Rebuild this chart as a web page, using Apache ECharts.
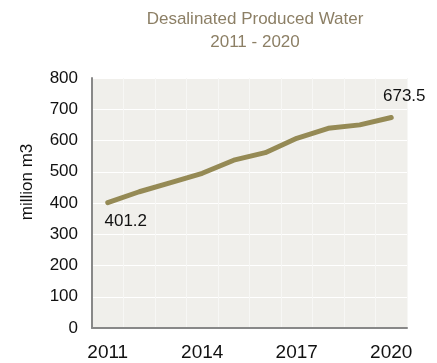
<!DOCTYPE html>
<html><head><meta charset="utf-8">
<script src="https://cdn.jsdelivr.net/npm/echarts@6/dist/echarts.min.js"></script>
<style>html,body{margin:0;padding:0;background:#fff}#c{width:437px;height:363px}</style>
</head><body><div id="c"></div>
<script>
const years = ['2011','2012','2013','2014','2015','2016','2017','2018','2019','2020'];
const water = [401.2, 436, 465, 495, 537, 561, 607, 639, 650, 673.5];
const yTicks = [0, 100, 200, 300, 400, 500, 600, 700, 800];

const chart = echarts.init(document.getElementById('c'));
const last = water.length - 1;
chart.setOption({
  animation: false,
  backgroundColor: '#ffffff',
  title: {
    text: 'Desalinated Produced Water\n2011 - 2020',
    left: 250, top: 3, textAlign: 'center',
    textStyle: { color: '#8c7f65', fontSize: 17, fontWeight: 'normal', fontFamily: 'Liberation Sans', lineHeight: 23 }
  },
  graphic: [{
    type: 'text', x: 27, y: 182, rotation: Math.PI / 2,
    style: { text: 'million m3', fill: '#111', font: '17px "Liberation Sans"', align: 'center', verticalAlign: 'middle' }
  }],
  grid: { left: 92, right: 30, top: 78, bottom: 35, backgroundColor: '#f0efeb', show: true, borderWidth: 0 },
  xAxis: {
    type: 'category', data: years, boundaryGap: true,
    axisLine: { lineStyle: { color: '#888', width: 2 } },
    axisTick: { show: false },
    axisLabel: { interval: 2, color: '#111', fontSize: 19, fontFamily: 'Liberation Sans', margin: 15 },
    splitLine: { show: true, interval: 0, lineStyle: { color: '#f7f7f5', width: 1 } }
  },
  yAxis: {
    type: 'value', min: yTicks[0], max: yTicks[yTicks.length - 1], interval: 100,
    axisLine: { show: true, lineStyle: { color: '#888', width: 2 } },
    axisTick: { show: false },
    axisLabel: { color: '#111', fontSize: 17, fontFamily: 'Liberation Sans', margin: 14 },
    splitLine: { lineStyle: { color: '#ffffff', width: 1 } }
  },
  series: [{
    type: 'line', data: water.map((v, i) => ({
      value: v,
      label: (i === 0 || i === last) ? {
        show: true, position: i === 0 ? 'bottom' : 'top', distance: i === 0 ? 9 : 12,
        padding: i === 0 ? [0, 0, 0, 36] : [0, 0, 0, 26],
        formatter: v.toFixed(1), color: '#111', fontSize: 17, fontFamily: 'Liberation Sans'
      } : { show: false }
    })),
    symbol: 'circle', symbolSize: 2, showSymbol: true, smooth: false,
    lineStyle: { color: '#958a55', width: 5, cap: 'round', join: 'round' },
    itemStyle: { color: 'rgba(0,0,0,0)' },
    labelLayout: { hideOverlap: false }
  }]
});
</script></body></html>
